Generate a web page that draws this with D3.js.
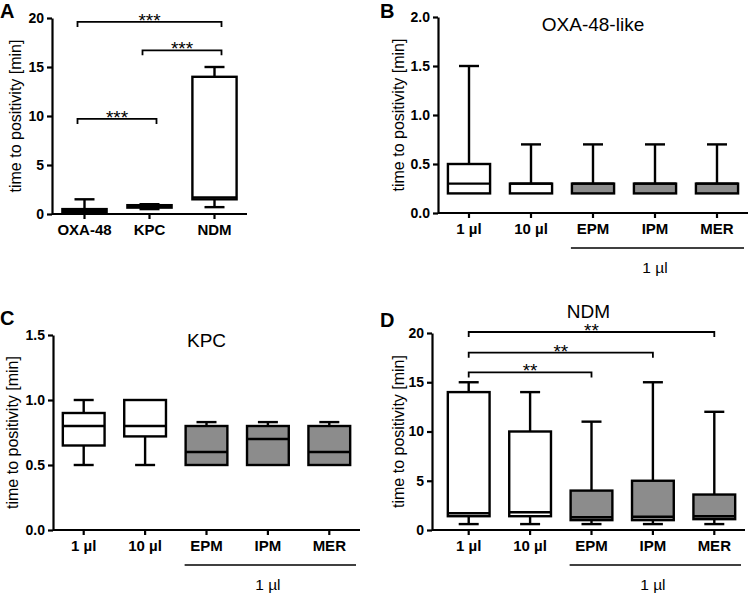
<!DOCTYPE html>
<html>
<head>
<script src="https://d3js.org/d3.v7.min.js"></script>
<style>
body { margin: 0; background: #fff; }
svg { display: block; font-family: "Liberation Sans", Arial, sans-serif; }
.axis path, .axis line { stroke: #000; stroke-width: 2.2; }
.axis text { fill: #000; font-weight: bold; }
.whisker { stroke: #000; stroke-width: 2.4; fill: none; }
.box { stroke: #000; stroke-width: 2.4; }
.bracket { stroke: #000; stroke-width: 1.8; fill: none; }
</style>
</head>
<body>
<svg width="750" height="594"></svg>
<script>
// A: all three carbapenemase types
var groupsA = ["OXA-48", "KPC", "NDM"];
var lowA  = [0.2, 0.5, 0.7];
var q1A   = [0.2, 0.65, 1.5];
var medA  = [0.3, 0.8, 1.7];
var q3A   = [0.5, 0.9, 14];
var highA = [1.5, 1.0, 15];
var ticksA = [0, 5, 10, 15, 20];
var bracketsA = [["OXA-48", "NDM", 19.6, "***"], ["KPC", "NDM", 16.7, "***"], ["OXA-48", "KPC", 9.7, "***"]];

// B-D: inoculum / carbapenem
var groups = ["1 µl", "10 µl", "EPM", "IPM", "MER"];
var shaded = [false, false, true, true, true];

// B OXA-48-like
var lowB  = [0.2, 0.2, 0.2, 0.2, 0.2];
var q1B   = [0.2, 0.2, 0.2, 0.2, 0.2];
var medB  = [0.3, 0.3, 0.3, 0.3, 0.3];
var q3B   = [0.5, 0.3, 0.3, 0.3, 0.3];
var highB = [1.5, 0.7, 0.7, 0.7, 0.7];
var ticksB = [0, 0.5, 1.0, 1.5, 2.0];

// C KPC
var lowC  = [0.5, 0.5, 0.5, 0.5, 0.5];
var q1C   = [0.65, 0.72, 0.5, 0.5, 0.5];
var medC  = [0.8, 0.8, 0.6, 0.7, 0.6];
var q3C   = [0.9, 1.0, 0.8, 0.8, 0.8];
var highC = [1.0, 1.0, 0.83, 0.83, 0.83];
var ticksC = [0, 0.5, 1.0, 1.5];

// D NDM
var lowD  = [0.6, 0.6, 0.6, 0.6, 0.6];
var q1D   = [1.4, 1.4, 1.0, 1.0, 1.1];
var medD  = [1.7, 1.8, 1.3, 1.35, 1.4];
var q3D   = [14, 10, 4, 5, 3.6];
var highD = [15, 14, 11, 15, 12];
var ticksD = [0, 5, 10, 15, 20];
var bracketsD = [["1 µl", "MER", 20.1, "**"], ["1 µl", "IPM", 18.0, "**"], ["1 µl", "EPM", 16.0, "**"]];

var svg = d3.select("svg");

function stats(cats, lo, q1, med, q3, hi, fills) {
    return cats.map(function (c, i) {
        return {cat: c, lo: lo[i], q1: q1[i], med: med[i], q3: q3[i], hi: hi[i], grey: fills ? fills[i] : false};
    });
}

function drawPanel(p) {
    var g = svg.append("g");
    var x = d3.scaleBand().domain(p.data.map(function (d) { return d.cat; })).range([p.bx0, p.bx1]);
    var y = d3.scaleLinear().domain([0, p.ymax]).range([p.y0, p.y1]);
    var bw = x.bandwidth(), boxW = bw * 0.68, capW = 20;
    var cx = function (c) { return x(c) + bw / 2; };

    // axes
    var ya = g.append("g").attr("class", "axis")
        .attr("transform", "translate(" + p.ax + ",0)")
        .call(d3.axisLeft(y).tickValues(p.ticks).tickSize(5).tickSizeOuter(0).tickPadding(3).tickFormat(p.fmt));
    ya.selectAll("text").style("font-size", "14px");

    var xa = g.append("g").attr("class", "axis")
        .attr("transform", "translate(0," + p.y0 + ")")
        .call(d3.axisBottom(x).tickSize(5).tickSizeOuter(0).tickPadding(5));
    xa.select(".domain").attr("d", "M" + p.ax + ",0H" + p.bx1);
    xa.selectAll("text").style("font-size", "15px");

    // whiskers
    var box = g.selectAll(".bp").data(p.data).enter().append("g").attr("class", "bp");
    box.append("line").attr("class", "whisker")
        .attr("x1", function (d) { return cx(d.cat); }).attr("x2", function (d) { return cx(d.cat); })
        .attr("y1", function (d) { return y(d.hi); }).attr("y2", function (d) { return y(d.lo); });
    box.filter(function (d) { return d.hi > d.q3; }).append("line").attr("class", "whisker")
        .attr("x1", function (d) { return cx(d.cat) - capW / 2; }).attr("x2", function (d) { return cx(d.cat) + capW / 2; })
        .attr("y1", function (d) { return y(d.hi); }).attr("y2", function (d) { return y(d.hi); });
    box.filter(function (d) { return d.lo < d.q1; }).append("line").attr("class", "whisker")
        .attr("x1", function (d) { return cx(d.cat) - capW / 2; }).attr("x2", function (d) { return cx(d.cat) + capW / 2; })
        .attr("y1", function (d) { return y(d.lo); }).attr("y2", function (d) { return y(d.lo); });
    // boxes
    box.append("rect").attr("class", "box")
        .attr("x", function (d) { return cx(d.cat) - boxW / 2; })
        .attr("width", boxW)
        .attr("y", function (d) { return y(d.q3); })
        .attr("height", function (d) { return y(d.q1) - y(d.q3); })
        .attr("fill", function (d) { return d.grey ? "#8c8c8c" : "#fff"; });
    box.append("line").attr("class", "whisker")
        .attr("x1", function (d) { return cx(d.cat) - boxW / 2; }).attr("x2", function (d) { return cx(d.cat) + boxW / 2; })
        .attr("y1", function (d) { return y(d.med); }).attr("y2", function (d) { return y(d.med); });

    // significance brackets
    (p.brackets || []).forEach(function (b) {
        var xl = cx(b[0]) - p.bpad, xr = cx(b[1]) + p.bpad, yb = y(b[2]);
        g.append("path").attr("class", "bracket")
            .attr("d", "M" + xl + "," + (yb + 5) + "V" + yb + "H" + xr + "V" + (yb + 5));
        g.append("text").attr("x", (xl + xr) / 2).attr("y", yb + 5)
            .attr("text-anchor", "middle").style("font-size", "19px").text(b[3]);
    });

    // y title
    g.append("text")
        .attr("transform", "translate(" + p.titleX + "," + (p.y0 + p.y1) / 2 + ") rotate(-90)")
        .attr("dy", "0.35em").attr("text-anchor", "middle")
        .style("font-size", "16px").text("time to positivity [min]");

    // panel letter
    g.append("text").attr("x", p.lx).attr("y", p.ly)
        .style("font-size", "20px").style("font-weight", "bold").text(p.letter);

    if (p.title) {
        g.append("text").attr("x", (p.ax + p.bx1) / 2).attr("y", p.ty)
            .attr("text-anchor", "middle").style("font-size", "19px").text(p.title);
    }

    if (p.underline) {
        var l0 = x("EPM") + (bw - boxW) / 2 - 1, l1 = p.bx1 - 4, ly = p.y0 + 35;
        g.append("line").attr("x1", l0).attr("x2", l1).attr("y1", ly).attr("y2", ly)
            .attr("stroke", "#000").attr("stroke-width", 1.6);
        g.append("text").attr("x", cx("IPM")).attr("y", ly + 25)
            .attr("text-anchor", "middle").style("font-size", "15.5px").text("1 µl");
    }
}

var fmtInt = d3.format("d"), fmt1 = d3.format(".1f");

drawPanel({letter: "A", lx: 0, ly: 18, data: stats(groupsA, lowA, q1A, medA, q3A, highA),
    ymax: 20, ticks: ticksA, fmt: fmtInt, ax: 52, bx0: 52, bx1: 247, y0: 214, y1: 18,
    titleX: 15, brackets: bracketsA, bpad: 7});
drawPanel({letter: "B", lx: 380, ly: 18, data: stats(groups, lowB, q1B, medB, q3B, highB, shaded),
    ymax: 2, ticks: ticksB, fmt: fmt1, ax: 438, bx0: 438, bx1: 748, y0: 213, y1: 17,
    titleX: 398, title: "OXA-48-like", ty: 31, underline: true});
drawPanel({letter: "C", lx: 0, ly: 325, data: stats(groups, lowC, q1C, medC, q3C, highC, shaded),
    ymax: 1.5, ticks: ticksC, fmt: fmt1, ax: 53, bx0: 53, bx1: 360, y0: 530, y1: 335,
    titleX: 12, title: "KPC", ty: 347, underline: true});
drawPanel({letter: "D", lx: 380, ly: 327, data: stats(groups, lowD, q1D, medD, q3D, highD, shaded),
    ymax: 20, ticks: ticksD, fmt: fmtInt, ax: 432, bx0: 438, bx1: 745, y0: 530, y1: 333,
    titleX: 398, title: "NDM", ty: 318, underline: true, brackets: bracketsD, bpad: 0});
</script>
</body>
</html>
